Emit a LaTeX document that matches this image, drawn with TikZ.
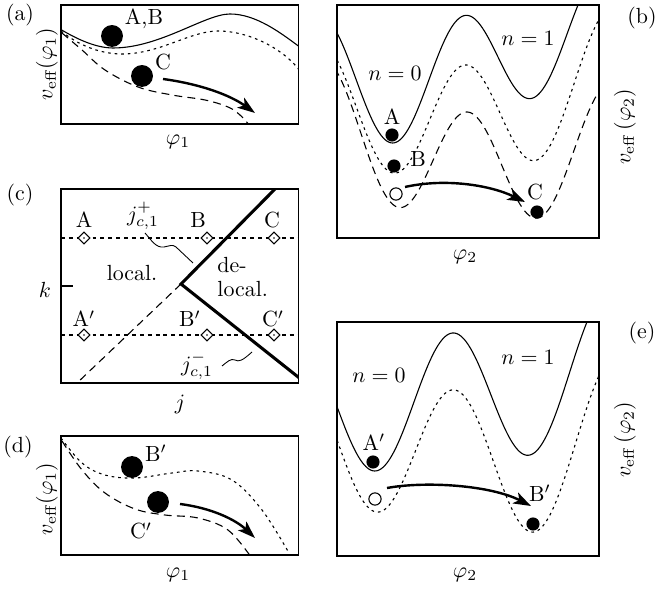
\documentclass[tikz,border=0pt]{standalone}
\usetikzlibrary{arrows.meta,shapes.geometric}
\tikzset{
  frame/.style={line width=0.7pt},
  curvesolid/.style={line width=0.5pt},
  curvedot/.style={line width=0.5pt, dash pattern=on 1.2pt off 1.8pt},
  curvedash/.style={line width=0.5pt, dash pattern=on 3.6pt off 2.4pt},
  hdot/.style={line width=0.5pt, dash pattern=on 1.8pt off 1.8pt},
  ball/.style={circle, fill=black, inner sep=0pt, minimum size=10pt},
  smallball/.style={circle, fill=black, inner sep=0pt, minimum size=6pt},
  openball/.style={circle, draw=black, fill=white, line width=0.5pt, inner sep=0pt, minimum size=5.6pt},
  movearrow/.style={line width=1.1pt, -{Stealth[length=8pt,width=5.5pt,inset=2pt]}},
  diamark/.style={diamond, draw, fill=white, line width=0.5pt, inner sep=0pt, minimum width=5.6pt, minimum height=5.6pt},
  phase/.style={line width=1.4pt},
  leader/.style={line width=0.4pt},
  lbl/.style={inner sep=0pt}
}
\begin{document}
\begin{tikzpicture}[x=0.4566pt,y=-0.4566pt]
\useasboundingbox (0,0) rectangle (658,591);

% ---------------- panel (a)
\begin{scope}
\clip (61,5) rectangle (298.5,124);
\draw[curvesolid] (60,29) .. controls (75,38) and (95,48) .. (113,48) .. controls (160,48) and (205,14) .. (230,14) .. controls (256,14) and (281,33) .. (301,48);
\draw[curvedot] (61,31) .. controls (78,45) and (100,54) .. (122,54) .. controls (160,54) and (190,31) .. (218,31) .. controls (248,31) and (283,48) .. (300,71);
\draw[curvedash] plot[smooth,tension=0.6] coordinates {(62,33) (82,50) (105,70) (138,87) (172,95) (205,100) (228,107) (240,115) (250,126)};
\end{scope}
\draw[frame] (61,5) rectangle (298.5,124);
\node[ball] (aAB) at (112,36) {};
\node[lbl] (aABl) at (144,19) {A,B};
\node[ball] (aC) at (142,76) {};
\node[lbl] (aCl) at (163,62) {C};
\coordinate (aS) at (163,79);
\coordinate (aE) at (255,113);
\draw[movearrow] (aS) .. controls (200,84) and (230,95) .. (aE);
\node[lbl] (alab) at (20,15) {(a)};
\node[lbl, rotate=90] (ay) at (47,64) {$v_{\mathrm{eff}}(\varphi_1)$};
\node[lbl] (ax) at (178,142) {$\varphi_1$};

% ---------------- panel (b)
\begin{scope}
\clip (337,5) rectangle (599,238);
\draw[curvesolid] plot[domain=-1.85:1.75, samples=150] ({463+70*\x}, {65.33 - 55.17*cos(180*\x) - 22.5*\x - 5.84*(\x*\x-1) + 3.78*(\x*\x*\x-\x)});
\draw[curvedot] plot[domain=-1.82:1.88, samples=150] ({465+72*\x}, {110.63 - 55.87*cos(180*\x) - 6.5*\x - 10.24*(\x*\x-1) - 0.7*(\x*\x*\x-\x)});
\draw[curvedash] plot[domain=-1.88:1.88, samples=150] ({467.5+70.5*\x}, {157.08 - 55.42*cos(180*\x) + 5.5*\x - 10.34*(\x*\x-1) + 0.07*(\x*\x*\x-\x)});
\end{scope}
\draw[frame] (337,5) rectangle (599,238);
\node[lbl] (bn0) at (395,73) {$n=0$};
\node[lbl] (bn1) at (528,38) {$n=1$};
\node[smallball] (bA) at (392,135) {};
\node[lbl] (bAl) at (392,117) {A};
\node[smallball] (bB) at (394,166) {};
\node[lbl] (bBl) at (418,159) {B};
\node[openball] (bO) at (396,194) {};
\node[smallball] (bC) at (537,212) {};
\node[lbl] (bCl) at (535,192) {C};
\coordinate (bS) at (405,187);
\coordinate (bE) at (525,202);
\draw[movearrow] (bS) .. controls (445,178) and (490,185) .. (bE);
\node[lbl] (blab) at (642,18) {(b)};
\node[lbl, rotate=90] (by) at (625,127) {$v_{\mathrm{eff}}\,(\varphi_2)$};
\node[lbl] (bx) at (465,257) {$\varphi_2$};

% ---------------- panel (c)
\draw[hdot] (61,238) -- (298.5,238);
\draw[hdot] (61,335) -- (298.5,335);
\coordinate (cV) at (181,284);
\begin{scope}
\clip (61,189) rectangle (298.5,383);
\draw[phase] (277,187) -- (cV) -- (300,378.5);
\draw[curvedash] (cV) -- (76,384);
\end{scope}
\draw[frame] (61,189) rectangle (298.5,383);
\draw[frame] (61,286) -- (73,286);
\node[diamark] (cA) at (84,238) {};
\node[diamark] (cB) at (207,238) {};
\node[diamark] (cC) at (274,238) {};
\node[diamark] (cA2) at (84,335) {};
\node[diamark] (cB2) at (207,335) {};
\node[diamark] (cC2) at (274,335) {};
\foreach \n in {cA,cB,cC,cA2,cB2,cC2} \fill (\n.center) circle (0.45pt);
\node[lbl, anchor=base] (cAl) at (84,228) {A};
\node[lbl, anchor=base] (cBl) at (198,228) {B};
\node[lbl, anchor=base] (cCl) at (272,228) {C};
\node[lbl, anchor=base] (cA2l) at (84,327) {A$'$};
\node[lbl, anchor=base] (cB2l) at (190,327) {B$'$};
\node[lbl, anchor=base] (cC2l) at (273,327) {C$'$};
\node[lbl, anchor=base] (cloc) at (132,281) {local.};
\node[lbl, anchor=base west] (cde) at (217,273) {de-};
\node[lbl, anchor=base west] (cdeloc) at (217,297) {local.};
\node[lbl] (cjp) at (143,216) {$j^{+}_{c,1}$};
\node[lbl] (cjm) at (197,366) {$j^{-}_{c,1}$};
\draw[leader] (145,233) .. controls (152,241) and (156,248) .. (164,247) .. controls (170,246) and (172,244) .. (176,247) -- (193,263);
\draw[leader] (222,366) .. controls (227,362) and (231,358) .. (235,360) .. controls (239,362) and (242,361) .. (252,352);
\node[lbl] (clab) at (20,195) {(c)};
\node[lbl] (ck) at (45,290) {$k$};
\node[lbl] (cj) at (180,404) {$j$};

% ---------------- panel (d)
\begin{scope}
\clip (61,436) rectangle (298.5,555);
\draw[curvedot] plot[smooth,tension=0.6] coordinates {(61,438) (82,463) (105,475) (135,478) (172,473) (198,471) (232,480) (262,510) (289,553)};
\draw[curvedash] plot[smooth,tension=0.6] coordinates {(62,441) (82,470) (105,493) (135,509) (165,515) (198,518) (228,530) (251,557)};
\end{scope}
\draw[frame] (61,436) rectangle (298.5,555);
\node[ball] (dB) at (132,467) {};
\node[lbl] (dBl) at (156,453) {B$'$};
\node[ball] (dC) at (158,502) {};
\node[lbl] (dCl) at (141,531) {C$'$};
\coordinate (dS) at (180,504);
\coordinate (dE) at (255,538);
\draw[movearrow] (dS) .. controls (212,508) and (236,520) .. (dE);
\node[lbl] (dlab) at (18,447) {(d)};
\node[lbl, rotate=90] (dy) at (47,499) {$v_{\mathrm{eff}}(\varphi_1)$};
\node[lbl] (dx) at (178,575) {$\varphi_1$};

% ---------------- panel (e)
\begin{scope}
\clip (337,322) rectangle (599,556);
\draw[curvesolid] plot[domain=-1.52:1.8, samples=150] ({452.5+77.5*\x}, {395.66 - 67.34*cos(180*\x) - 8*\x - 4.68*(\x*\x-1) - 1.46*(\x*\x*\x-\x)});
\draw[curvedot] plot[domain=-1.52:1.83, samples=150] ({455+79*\x}, {452.65 - 69.35*cos(180*\x) + 10*\x - 6.7*(\x*\x-1) - 4.95*(\x*\x*\x-\x)});
\end{scope}
\draw[frame] (337,322) rectangle (599,556);
\node[lbl] (en0) at (379,375) {$n=0$};
\node[lbl] (en1) at (528,357) {$n=1$};
\node[smallball] (eA) at (373,462) {};
\node[lbl] (eAl) at (374,442) {A$'$};
\node[openball] (eO) at (375,499) {};
\node[smallball] (eB) at (533,524) {};
\node[lbl] (eBl) at (540,493) {B$'$};
\coordinate (eS) at (387,488);
\coordinate (eE) at (531,506);
\draw[movearrow] (eS) .. controls (425,481) and (490,485) .. (eE);
\node[lbl] (elab) at (642,333) {(e)};
\node[lbl, rotate=90] (ey) at (625,440) {$v_{\mathrm{eff}}\,(\varphi_2)$};
\node[lbl] (ex) at (465,575) {$\varphi_2$};
\end{tikzpicture}
\end{document}
